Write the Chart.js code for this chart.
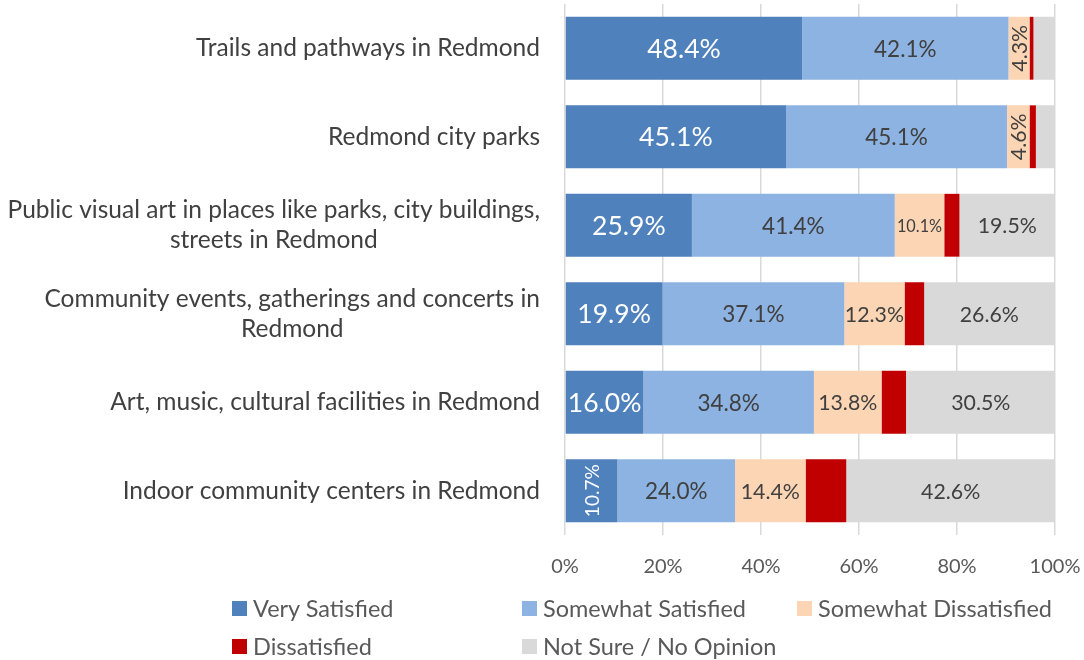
<!DOCTYPE html>
<html>
<head>
<meta charset="utf-8">
<script src="https://cdn.jsdelivr.net/npm/chart.js@4.4.1/dist/chart.umd.min.js"></script>
<style>
  html, body { margin: 0; padding: 0; background: #fff; }
  #wrap { position: relative; width: 1084px; height: 660px; font-family: Lato, sans-serif; }
  #chart { position: absolute; left: 0; top: 0; }
  .legend-item { position: absolute; display: flex; align-items: center; font-size: 23.5px; color: #595959; line-height: 1; white-space: nowrap; }
  .legend-item .box { width: 15px; height: 15px; margin-right: 6px; }
</style>
</head>
<body>
<div id="wrap">
  <canvas id="chart" width="1084" height="660"></canvas>
  <div id="legend"></div>
</div>
<script>
var categories = [
    'Trails and pathways in Redmond',
    'Redmond city parks',
    ['Public visual art in places like parks, city buildings,', 'streets in Redmond'],
    ['Community events, gatherings and concerts in', 'Redmond'],
    'Art, music, cultural facilities in Redmond',
    'Indoor community centers in Redmond'
];
var seriesNames = ['Very Satisfied', 'Somewhat Satisfied', 'Somewhat Dissatisfied', 'Dissatisfied', 'Not Sure / No Opinion'];
var verySatisfied = [48.4, 45.1, 25.9, 19.9, 16.0, 10.7];
var somewhatSatisfied = [42.1, 45.1, 41.4, 37.1, 34.8, 24.0];
var somewhatDissatisfied = [4.3, 4.6, 10.1, 12.3, 13.8, 14.4];
var dissatisfied = [0.8, 1.3, 3.1, 4.0, 5.0, 8.3];
var notSure = [4.4, 3.9, 19.5, 26.6, 30.5, 42.6];
var xTicks = [0, 20, 40, 60, 80, 100];

var seriesColors = ['#4F81BD', '#8DB3E2', '#FCD5B4', '#C00000', '#D9D9D9'];
var textColor = '#404040';
var fontFamily = 'Lato, sans-serif';

// label look per series (null = no labels)
var labelStyle = [
    {color: '#ffffff', size: 26.5},
    {color: textColor, size: 22.5},
    {color: textColor, size: 21.3},
    null,
    {color: textColor, size: 21.3, minValue: 5}
];
// row,series -> tweaks for the cramped segments
var labelTweaks = {
    '0,2': {rotate: true},
    '1,2': {rotate: true},
    '2,2': {size: 16.3},
    '5,0': {rotate: true, size: 19}
};

var categoryLabels = {
    id: 'categoryLabels',
    afterDraw: function(chart) {
        var ctx = chart.ctx;
        var yScale = chart.scales.y;
        var right = chart.chartArea.left - 25;
        var lineHeight = 30;
        ctx.save();
        ctx.font = '24.5px ' + fontFamily;
        ctx.fillStyle = textColor;
        ctx.textAlign = 'center';
        ctx.textBaseline = 'middle';
        categories.forEach(function(label, i) {
            var lines = Array.isArray(label) ? label : [label];
            var widest = 0;
            lines.forEach(function(l) { widest = Math.max(widest, ctx.measureText(l).width); });
            var cx = right - widest / 2;
            var cy = yScale.getPixelForTick(i);
            var top = cy - (lines.length - 1) * lineHeight / 2;
            lines.forEach(function(l, k) {
                ctx.fillText(l, cx, top + k * lineHeight);
            });
        });
        ctx.restore();
    }
};

var segmentLabels = {
    id: 'segmentLabels',
    afterDatasetsDraw: function(chart) {
        var ctx = chart.ctx;
        ctx.save();
        ctx.textAlign = 'center';
        ctx.textBaseline = 'middle';
        chart.data.datasets.forEach(function(ds, d) {
            var style = labelStyle[d];
            if (!style) return;
            chart.getDatasetMeta(d).data.forEach(function(bar, i) {
                var v = ds.data[i];
                if (style.minValue && v < style.minValue) return;
                var tweak = labelTweaks[i + ',' + d] || {};
                var size = tweak.size || style.size;
                var p = bar.getProps(['x', 'y', 'base'], true);
                var cx = (p.x + p.base) / 2;
                ctx.font = size + 'px ' + fontFamily;
                ctx.fillStyle = style.color;
                ctx.save();
                ctx.translate(cx, p.y);
                if (tweak.rotate) ctx.rotate(-Math.PI / 2);
                ctx.fillText(v.toFixed(1) + '%', 0, 1);
                ctx.restore();
            });
        });
        ctx.restore();
    }
};

var seriesData = [verySatisfied, somewhatSatisfied, somewhatDissatisfied, dissatisfied, notSure];

new Chart(document.getElementById('chart').getContext('2d'), {
    type: 'bar',
    data: {
        labels: categories,
        datasets: seriesNames.map(function(name, d) {
            return {
                label: name,
                data: seriesData[d],
                backgroundColor: seriesColors[d],
                borderWidth: 0,
                categoryPercentage: 1,
                barPercentage: 0.71
            };
        })
    },
    options: {
        indexAxis: 'y',
        responsive: false,
        animation: false,
        layout: {padding: {left: 557, right: 29, top: 4, bottom: 75}},
        plugins: {legend: {display: false}, tooltip: {enabled: false}},
        scales: {
            x: {
                stacked: true,
                min: 0,
                max: 100,
                afterBuildTicks: function(scale) {
                    scale.ticks = xTicks.map(function(v) { return {value: v}; });
                },
                afterFit: function(scale) {
                    scale.height = 50;
                    // tick labels may hang into the margin, like the source
                    scale.paddingLeft = 0;
                    scale.paddingRight = 0;
                },
                grid: {color: '#D9D9D9', lineWidth: 1.5, drawTicks: false},
                border: {display: false},
                ticks: {
                    padding: 20,
                    color: '#595959',
                    font: {family: fontFamily, size: 20},
                    callback: function(v) { return v + '%'; }
                }
            },
            y: {
                stacked: true,
                grid: {display: false},
                border: {display: false},
                ticks: {display: false}
            }
        }
    },
    plugins: [categoryLabels, segmentLabels]
});

// legend laid out in a fixed grid, as in the source
var legendSlots = [[232, 609], [522, 609], [797, 609], [232, 647], [522, 647]];
var legend = document.getElementById('legend');
seriesNames.forEach(function(name, d) {
    var item = document.createElement('div');
    item.className = 'legend-item';
    item.style.left = legendSlots[d][0] + 'px';
    item.style.top = (legendSlots[d][1] - 12) + 'px';
    item.innerHTML = '<span class="box" style="background:' + seriesColors[d] + '"></span>' + name;
    legend.appendChild(item);
});
</script>
</body>
</html>
